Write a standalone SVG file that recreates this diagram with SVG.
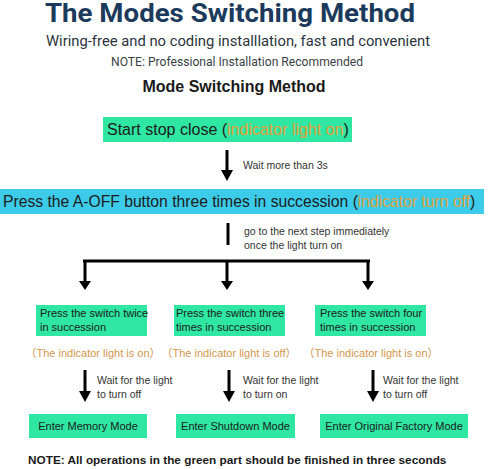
<svg xmlns="http://www.w3.org/2000/svg" width="488" height="469" viewBox="0 0 488 469">
<style>
.green{fill:#2fe6a2}
.blue{fill:#3ccbe8}
.bt{font-family:"Liberation Sans",Arial,sans-serif;fill:#1c1c1c}
.lbl{font-family:"Liberation Sans",Arial,sans-serif;font-size:10.5px;fill:#333}
.or{fill:#e3a13a}
.or2{font-family:"Liberation Sans","Noto Sans CJK SC",sans-serif;font-size:11px;fill:#d5964f}
.ln{stroke:#000;stroke-width:3;fill:none}
.hd{fill:#000}
</style>
<rect width="488" height="469" fill="#fff"/>
<g id="header">
<text x="230" y="22" text-anchor="middle" font-family="Roboto,'Liberation Sans',sans-serif" font-weight="700" font-size="25" fill="#1b3a5c" textLength="370" lengthAdjust="spacingAndGlyphs">The Modes Switching Method</text>
<text x="238" y="46" text-anchor="middle" font-family="Roboto,'Liberation Sans',sans-serif" font-size="15" fill="#2b3440" textLength="384" lengthAdjust="spacingAndGlyphs">Wiring-free and no coding installlation, fast and convenient</text>
<text x="237" y="66" text-anchor="middle" font-family="Roboto,'Liberation Sans',sans-serif" font-size="12" fill="#3a3f45" textLength="252" lengthAdjust="spacingAndGlyphs">NOTE: Professional Installation Recommended</text>
<text x="234" y="92" text-anchor="middle" font-family="'Liberation Sans',Arial,sans-serif" font-weight="700" font-size="16" fill="#1a1a1a">Mode Switching Method</text>
</g>
<g id="connectors">
<line class="ln" x1="227" y1="150" x2="227" y2="172"/>
<polygon class="hd" points="221,170 233,170 227,181"/>
<line class="ln" x1="228" y1="223" x2="228" y2="245"/>
<line class="ln" x1="83" y1="261" x2="370" y2="261"/>
<line class="ln" x1="85" y1="261" x2="85" y2="283"/>
<polygon class="hd" points="79,281 91,281 85,290"/>
<line class="ln" x1="227" y1="261" x2="227" y2="283"/>
<polygon class="hd" points="221,281 233,281 227,290"/>
<line class="ln" x1="368" y1="261" x2="368" y2="283"/>
<polygon class="hd" points="362,281 374,281 368,290"/>
<line class="ln" x1="85" y1="370" x2="85" y2="393"/>
<polygon class="hd" points="79,391 91,391 85,402"/>
<line class="ln" x1="229" y1="370" x2="229" y2="393"/>
<polygon class="hd" points="223,391 235,391 229,402"/>
<line class="ln" x1="373" y1="370" x2="373" y2="393"/>
<polygon class="hd" points="367,391 379,391 373,402"/>
<text class="lbl" x="243" y="169" font-size="11">Wait more than 3s</text>
<text class="lbl" x="244" y="235">go to the next step immediately</text>
<text class="lbl" x="244" y="249">once the light turn on</text>
<text class="lbl" x="97" y="384">Wait for the light</text>
<text class="lbl" x="97" y="398">to turn off</text>
<text class="lbl" x="243" y="384">Wait for the light</text>
<text class="lbl" x="243" y="398">to turn on</text>
<text class="lbl" x="383" y="384">Wait for the light</text>
<text class="lbl" x="383" y="398">to turn off</text>
</g>
<g id="start">
<rect class="green" x="103" y="117" width="249" height="25"/>
<text class="bt" x="107" y="135" font-size="16">Start stop close (<tspan class="or">indicator light on</tspan>)</text>
</g>
<g id="press-aoff">
<rect class="blue" x="0" y="189" width="484" height="25"/>
<text class="bt" x="3" y="207" font-size="15.7">Press the A-OFF button three times in succession (<tspan class="or">indicator turn off</tspan>)</text>
</g>
<g id="twice">
<rect class="green" x="36" y="305" width="111" height="31"/>
<text class="bt" x="40" y="317" font-size="11">Press the switch twice</text>
<text class="bt" x="40" y="331" font-size="11">in succession</text>
<text class="or2" x="93" y="357" text-anchor="middle">（The indicator light is on）</text>
</g>
<g id="three">
<rect class="green" x="174" y="305" width="111" height="31"/>
<text class="bt" x="176" y="317" font-size="11">Press the switch three</text>
<text class="bt" x="176" y="331" font-size="11">times in succession</text>
<text class="or2" x="229" y="357" text-anchor="middle">（The indicator light is off）</text>
</g>
<g id="four">
<rect class="green" x="315" y="305" width="111" height="31"/>
<text class="bt" x="320" y="317" font-size="11">Press the switch four</text>
<text class="bt" x="320" y="331" font-size="11">times in succession</text>
<text class="or2" x="371" y="357" text-anchor="middle">（The indicator light is on）</text>
</g>
<g id="memory">
<rect class="green" x="29" y="414" width="118" height="24"/>
<text class="bt" x="88" y="430" font-size="11" text-anchor="middle">Enter Memory Mode</text>
</g>
<g id="shutdown">
<rect class="green" x="176" y="414" width="119" height="24"/>
<text class="bt" x="235.5" y="430" font-size="11" text-anchor="middle">Enter Shutdown Mode</text>
</g>
<g id="factory">
<rect class="green" x="320" y="414" width="148" height="24"/>
<text class="bt" x="394" y="430" font-size="11" text-anchor="middle">Enter Original Factory Mode</text>
</g>
<g id="footer">
<text x="28" y="464" font-family="'Liberation Sans',Arial,sans-serif" font-weight="700" font-size="11.8" fill="#1a1a1a">NOTE: All operations in the green part should be finished in three seconds</text>
</g>
</svg>
